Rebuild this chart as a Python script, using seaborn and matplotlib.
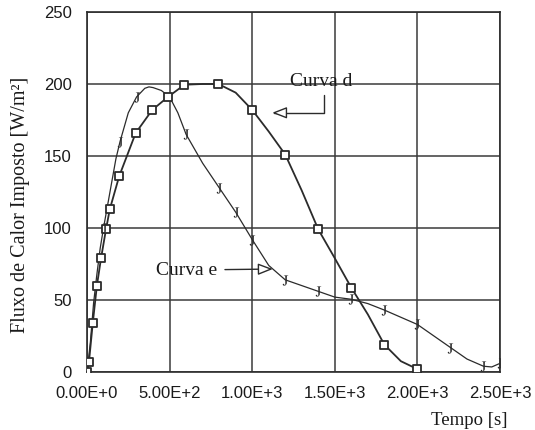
import matplotlib
matplotlib.use("Agg")
import matplotlib.pyplot as plt
from matplotlib.ticker import MultipleLocator
import seaborn as sns

# Curve d: imposed heat flux (W/m^2) versus time (s)
d_time = [0, 12, 35, 60, 85, 115, 138, 195, 295, 395, 490, 590, 700, 795,
          900, 1000, 1100, 1200, 1300, 1400, 1500, 1600, 1700, 1800, 1900, 2000]
d_flux = [0, 7, 34, 60, 79, 99, 113, 136, 166, 182, 191, 199.5, 200, 200,
          194, 182, 167, 151, 126, 99, 79, 58.5, 40, 19, 7.5, 2]
d_marker_time = [0, 12, 35, 60, 85, 115, 138, 195, 295, 395, 490, 590, 795,
                 1000, 1200, 1400, 1600, 1800, 2000]

# Curve e: imposed heat flux (W/m^2) versus time (s)
e_time = [0, 20, 40, 60, 80, 100, 125, 150, 175, 200, 250, 300, 350, 375, 400,
          450, 500, 550, 600, 650, 700, 800, 900, 1000, 1100, 1200, 1300, 1400,
          1500, 1600, 1700, 1800, 1900, 2000, 2100, 2200, 2300, 2400, 2450, 2500]
e_flux = [0, 20, 48, 68, 86, 100, 116, 132, 148, 160, 180, 191, 197, 198, 197.5,
          195.5, 191, 180, 165, 155, 145, 128, 111, 92, 74, 64, 60, 56,
          52, 50.5, 47.5, 43, 38, 33, 25, 17, 9, 4, 3.5, 6]
e_marker_time = [100, 200, 300, 600, 800, 900, 1000, 1200, 1400, 1600, 1800,
                 2000, 2200, 2400, 2500]

x_ticks = [0, 500, 1000, 1500, 2000, 2500]
x_tick_labels = ["0.00E+0", "5.00E+2", "1.00E+3", "1.50E+3", "2.00E+3", "2.50E+3"]
y_ticks = [0, 50, 100, 150, 200, 250]

INK = "#2b2b2b"
SERIF = ["Liberation Serif", "DejaVu Serif"]

sns.set_style("white")
plt.rcParams["font.family"] = ["Liberation Sans", "DejaVu Sans"]
plt.rcParams["mathtext.fontset"] = "stix"

fig = plt.figure(figsize=(5.35, 4.3), dpi=100)
ax = fig.add_axes([0.1626, 0.1349, 0.7720, 0.8372])

# curves
sns.lineplot(x=e_time, y=e_flux, ax=ax, color=INK, lw=0.9,
             sort=False, estimator=None, zorder=3)
sns.lineplot(x=d_time, y=d_flux, ax=ax, color=INK, lw=1.3,
             sort=False, estimator=None, zorder=3)

# markers
d_lookup = dict(zip(d_time, d_flux))
e_lookup = dict(zip(e_time, e_flux))
sns.scatterplot(x=d_marker_time, y=[d_lookup[t] for t in d_marker_time],
                ax=ax, marker="s", s=30, color="white", edgecolor=INK,
                linewidth=1.3, zorder=4)
sns.scatterplot(x=e_marker_time, y=[e_lookup[t] for t in e_marker_time],
                ax=ax, marker="$\\mathrm{J}$", s=55, color=INK,
                linewidth=0, zorder=4)

# axes, ticks, grid
ax.set_xlim(0, 2500)
ax.set_ylim(0, 250)
ax.set_xticks(x_ticks)
ax.set_xticklabels(x_tick_labels)
ax.set_yticks(y_ticks)
ax.xaxis.set_minor_locator(MultipleLocator(100))
ax.yaxis.set_minor_locator(MultipleLocator(10))
ax.tick_params(axis="x", which="major", direction="in", length=6, width=1,
               color=INK, pad=10, labelsize=12, labelcolor="#1a1a1a")
ax.tick_params(axis="x", which="minor", direction="in", length=4, width=0.8,
               color=INK)
ax.tick_params(axis="y", which="major", direction="out", length=6, width=1,
               color=INK, pad=5, labelsize=12, labelcolor="#1a1a1a")
ax.tick_params(axis="y", which="minor", direction="out", length=3, width=0.8,
               color=INK)
ax.grid(True, which="major", color="#3a3a3a", lw=1.1)
for side in ax.spines.values():
    side.set_color(INK)
    side.set_linewidth(1.2)
    side.set_visible(True)

ax.set_xlabel("Tempo [s]", fontfamily=SERIF, fontsize=13.5, color="#1a1a1a",
              ha="right", va="center")
ax.xaxis.set_label_coords(1.019, -0.136)
ax.set_ylabel("Fluxo de Calor Imposto [W/m²]", fontfamily=SERIF, fontsize=14.5,
              color="#1a1a1a", va="center")
ax.yaxis.set_label_coords(-0.162, 0.464)

# curve call-outs
head = "-|>,head_length=0.9,head_width=0.35"
ax.annotate("Curva d", xy=(1120, 180), xytext=(1229, 198.5),
            ha="left", va="baseline", fontfamily=SERIF, fontsize=14,
            color="#1a1a1a", zorder=5,
            arrowprops=dict(arrowstyle=head, connectionstyle="angle,angleA=90,angleB=0,rad=0",
                            fc="white", ec=INK, lw=1.0, relpos=(0.55, 0),
                            shrinkA=1, shrinkB=0, mutation_scale=10))
ax.annotate("Curva e", xy=(1125, 71.5), xytext=(420, 70.8),
            ha="left", va="center", fontfamily=SERIF, fontsize=14,
            color="#1a1a1a", zorder=5,
            arrowprops=dict(arrowstyle=head, fc="white", ec=INK, lw=1.0,
                            shrinkA=3, shrinkB=0, mutation_scale=10))

fig.savefig("out.png", dpi=100, facecolor="white")
